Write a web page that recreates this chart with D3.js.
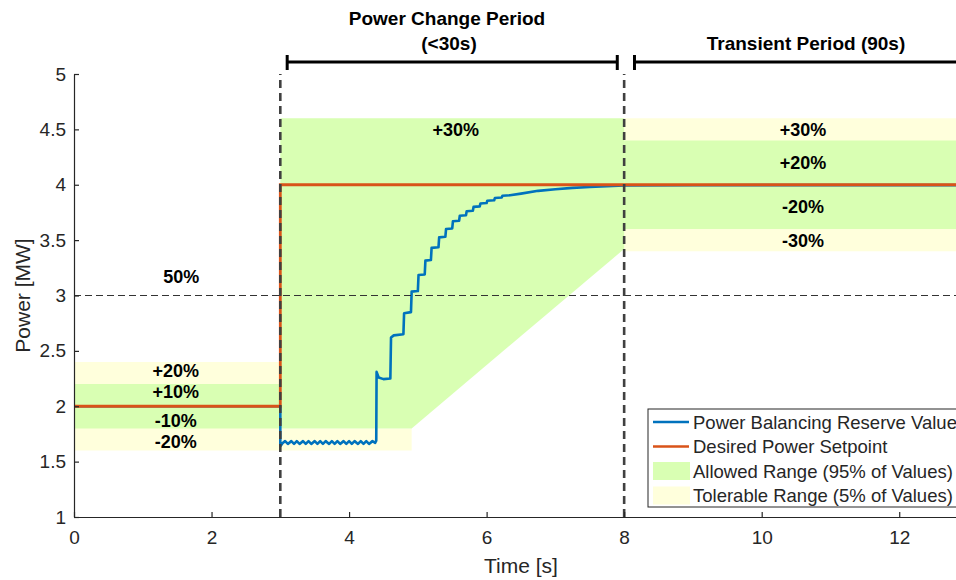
<!DOCTYPE html>
<html lang="en">
<head>
    <meta charset="UTF-8">
    <title>Power Balancing Reserve</title>
    <script src="https://cdnjs.cloudflare.com/ajax/libs/d3/7.8.5/d3.js"></script>
    <style>
        body { margin: 0; background: #fff; }
        svg { display: block; font-family: "Liberation Sans", Arial, Helvetica, sans-serif; }
        .axis path, .axis line { stroke: #262626; stroke-width: 1.2px; }
        .axis text { fill: #262626; font-size: 19px; }
        .pct { font-weight: bold; font-size: 18px; fill: #000; text-anchor: middle; }
        .head { font-weight: bold; font-size: 19px; fill: #000; text-anchor: middle; }
    </style>
</head>
<body>
<svg width="956" height="580"></svg>

<script>
    // ---- data ----
    const xTicks = [0, 2, 4, 6, 8, 10, 12];
    const yTicks = [1, 1.5, 2, 2.5, 3, 3.5, 4, 4.5, 5];

    // desired setpoint [time s, MW]
    const setpoint = [[0, 2], [3, 2], [3, 4], [13, 4]];

    // measured reserve value [time s, MW]
    const reserve = [
        [0, 2.0], [1, 2.0], [2, 2.0], [3, 2.0], [3.0, 1.64],
        [3.03, 1.665], [3.07, 1.685], [3.11, 1.66], [3.16, 1.685], [3.20, 1.66], [3.24, 1.685],
        [3.28, 1.66], [3.33, 1.685], [3.37, 1.66], [3.41, 1.685], [3.45, 1.66], [3.50, 1.685],
        [3.54, 1.66], [3.58, 1.685], [3.62, 1.66], [3.66, 1.685], [3.71, 1.66], [3.75, 1.685],
        [3.79, 1.66], [3.83, 1.685], [3.87, 1.66], [3.92, 1.685], [3.96, 1.66], [4.00, 1.685],
        [4.04, 1.66], [4.08, 1.685], [4.13, 1.66], [4.17, 1.685], [4.21, 1.66], [4.25, 1.685],
        [4.29, 1.66], [4.34, 1.685], [4.38, 1.67], [4.395, 1.69],
        [4.40, 2.31], [4.43, 2.26], [4.5, 2.245], [4.6, 2.25],
        [4.61, 2.62], [4.65, 2.64], [4.79, 2.65], [4.80, 2.84], [4.90, 2.85],
        [4.91, 3.035], [5.0, 3.04], [5.01, 3.185], [5.10, 3.19], [5.11, 3.315], [5.19, 3.32],
        [5.20, 3.43], [5.30, 3.435], [5.31, 3.525], [5.40, 3.53], [5.41, 3.60], [5.50, 3.605],
        [5.51, 3.67], [5.60, 3.675], [5.61, 3.72], [5.70, 3.725], [5.71, 3.76], [5.80, 3.765],
        [5.81, 3.80], [5.90, 3.805], [5.91, 3.83], [6.0, 3.835], [6.01, 3.856], [6.11, 3.86],
        [6.12, 3.88], [6.22, 3.885], [6.23, 3.90], [6.34, 3.905],
        [6.5, 3.92], [6.75, 3.945], [7.0, 3.96], [7.25, 3.972], [7.5, 3.98], [7.75, 3.988],
        [8.0, 3.993], [9, 3.996], [10, 3.997], [13, 3.997]
    ];

    // tolerance bands as polygons [time s, MW]
    const tolerableBands = [
        [[0, 1.6], [4.91, 1.6], [4.91, 1.8], [3, 1.8], [3, 2.4], [0, 2.4]],
        [[8, 3.4], [13, 3.4], [13, 4.6], [8, 4.6]]
    ];
    const allowedBands = [
        [[0, 1.8], [3, 1.8], [3, 2.2], [0, 2.2]],
        [[3, 1.8], [4.91, 1.8], [8, 3.42], [8, 4.6], [3, 4.6]],
        [[8, 3.6], [13, 3.6], [13, 4.4], [8, 4.4]]
    ];

    const bandLabels = [
        { t: 1.48, v: 2.32, text: "+20%" },
        { t: 1.48, v: 2.13, text: "+10%" },
        { t: 1.48, v: 1.87, text: "-10%" },
        { t: 1.48, v: 1.68, text: "-20%" },
        { t: 1.56, v: 3.17, text: "50%" },
        { t: 5.55, v: 4.5, text: "+30%" },
        { t: 10.6, v: 4.5, text: "+30%" },
        { t: 10.6, v: 4.2, text: "+20%" },
        { t: 10.6, v: 3.8, text: "-20%" },
        { t: 10.6, v: 3.5, text: "-30%" }
    ];

    const periodLines = [3, 8];     // vertical dashed markers
    const halfLevel = 3;            // 50% line
    const changeBracket = [3.1, 7.9];
    const transientBracket = [8.15, 13.5];

    const legendItems = [
        { kind: "line", color: "#0072BD", label: "Power Balancing Reserve Value" },
        { kind: "line", color: "#D95319", label: "Desired Power Setpoint" },
        { kind: "rect", color: "#D9FFB3", label: "Allowed Range (95% of Values)" },
        { kind: "rect", color: "#FFFFDC", label: "Tolerable Range (5% of Values)" }
    ];

    // ---- layout ----
    const svg = d3.select("svg");
    const x = d3.scaleLinear().domain([0, 13]).range([74, 968]);
    const y = d3.scaleLinear().domain([1, 5]).range([517, 74]);

    const GREEN = "#D9FFB3", YELLOW = "#FFFFDC";
    const poly = d3.line().x(d => x(d[0])).y(d => y(d[1]));

    // bands
    svg.append("g").selectAll("path").data(tolerableBands).enter().append("path")
        .attr("d", d => poly(d) + "Z").attr("fill", YELLOW);
    svg.append("g").selectAll("path").data(allowedBands).enter().append("path")
        .attr("d", d => poly(d) + "Z").attr("fill", GREEN);

    // series
    svg.append("path").datum(reserve)
        .attr("d", poly).attr("fill", "none")
        .attr("stroke", "#0072BD").attr("stroke-width", 2.6).attr("stroke-linejoin", "round");
    svg.append("path").datum(setpoint)
        .attr("d", poly).attr("fill", "none")
        .attr("stroke", "#D95319").attr("stroke-width", 2.8);

    // 50% line
    svg.append("line")
        .attr("x1", x(0)).attr("x2", x(13))
        .attr("y1", y(halfLevel)).attr("y2", y(halfLevel))
        .attr("stroke", "#333").attr("stroke-width", 1.2).attr("stroke-dasharray", "7,4");

    // period separators
    svg.append("g").selectAll("line").data(periodLines).enter().append("line")
        .attr("x1", d => x(d)).attr("x2", d => x(d))
        .attr("y1", y(1)).attr("y2", y(5))
        .attr("stroke", "#404040").attr("stroke-width", 2.6).attr("stroke-dasharray", "8,5");

    // band labels
    svg.append("g").selectAll("text").data(bandLabels).enter().append("text")
        .attr("class", "pct")
        .attr("x", d => x(d.t)).attr("y", d => y(d.v))
        .attr("dy", "0.36em")
        .text(d => d.text);

    // axes
    svg.append("g").attr("class", "axis")
        .attr("transform", `translate(0,${y(1)})`)
        .call(d3.axisBottom(x).tickValues(xTicks).tickSize(-5).tickSizeOuter(0).tickPadding(14).tickFormat(d3.format("d")));
    svg.append("g").attr("class", "axis")
        .attr("transform", `translate(${x(0)},0)`)
        .call(d3.axisLeft(y).tickValues(yTicks).tickSize(-5).tickSizeOuter(0).tickPadding(8).tickFormat(d => d));
    svg.selectAll(".axis .domain").attr("stroke", "#262626");

    svg.append("text")
        .attr("x", (x(0) + x(13)) / 2).attr("y", 573)
        .attr("text-anchor", "middle").attr("font-size", 21).attr("fill", "#262626")
        .text("Time [s]");
    svg.append("text")
        .attr("transform", `translate(30,${(y(1) + y(5)) / 2}) rotate(-90)`)
        .attr("text-anchor", "middle").attr("font-size", 21).attr("fill", "#262626")
        .text("Power [MW]");

    // period brackets
    const bracketY = 62;
    function bracket(range, endTick) {
        const g = svg.append("g").attr("stroke", "#000").attr("stroke-width", 3);
        g.append("line").attr("x1", x(range[0])).attr("x2", x(range[1])).attr("y1", bracketY).attr("y2", bracketY);
        g.append("line").attr("x1", x(range[0])).attr("x2", x(range[0])).attr("y1", bracketY - 7).attr("y2", bracketY + 8);
        if (endTick) g.append("line").attr("x1", x(range[1])).attr("x2", x(range[1])).attr("y1", bracketY - 7).attr("y2", bracketY + 8);
    }
    bracket(changeBracket, true);
    bracket(transientBracket, false);

    svg.append("text").attr("class", "head").attr("x", 447).attr("y", 25).text("Power Change Period");
    svg.append("text").attr("class", "head").attr("x", 449).attr("y", 50).text("(<30s)");
    svg.append("text").attr("class", "head").attr("x", 806).attr("y", 50).text("Transient Period (90s)");

    // legend
    const lg = svg.append("g").attr("transform", "translate(648,409)");
    lg.append("rect").attr("width", 320).attr("height", 98)
        .attr("fill", "#fff").attr("stroke", "#262626").attr("stroke-width", 1);
    const rows = lg.selectAll("g.item").data(legendItems).enter().append("g")
        .attr("class", "item")
        .attr("transform", (d, i) => `translate(0,${13 + i * 24.5})`);
    rows.filter(d => d.kind === "line").append("line")
        .attr("x1", 5).attr("x2", 41).attr("y1", 0).attr("y2", 0)
        .attr("stroke", d => d.color).attr("stroke-width", 2.6);
    rows.filter(d => d.kind === "rect").append("rect")
        .attr("x", 5).attr("y", -9).attr("width", 37).attr("height", 18)
        .attr("fill", d => d.color);
    rows.append("text")
        .attr("x", 45).attr("dy", "0.36em")
        .attr("font-size", 18.5).attr("fill", "#262626")
        .text(d => d.label);
</script>
</body>
</html>
